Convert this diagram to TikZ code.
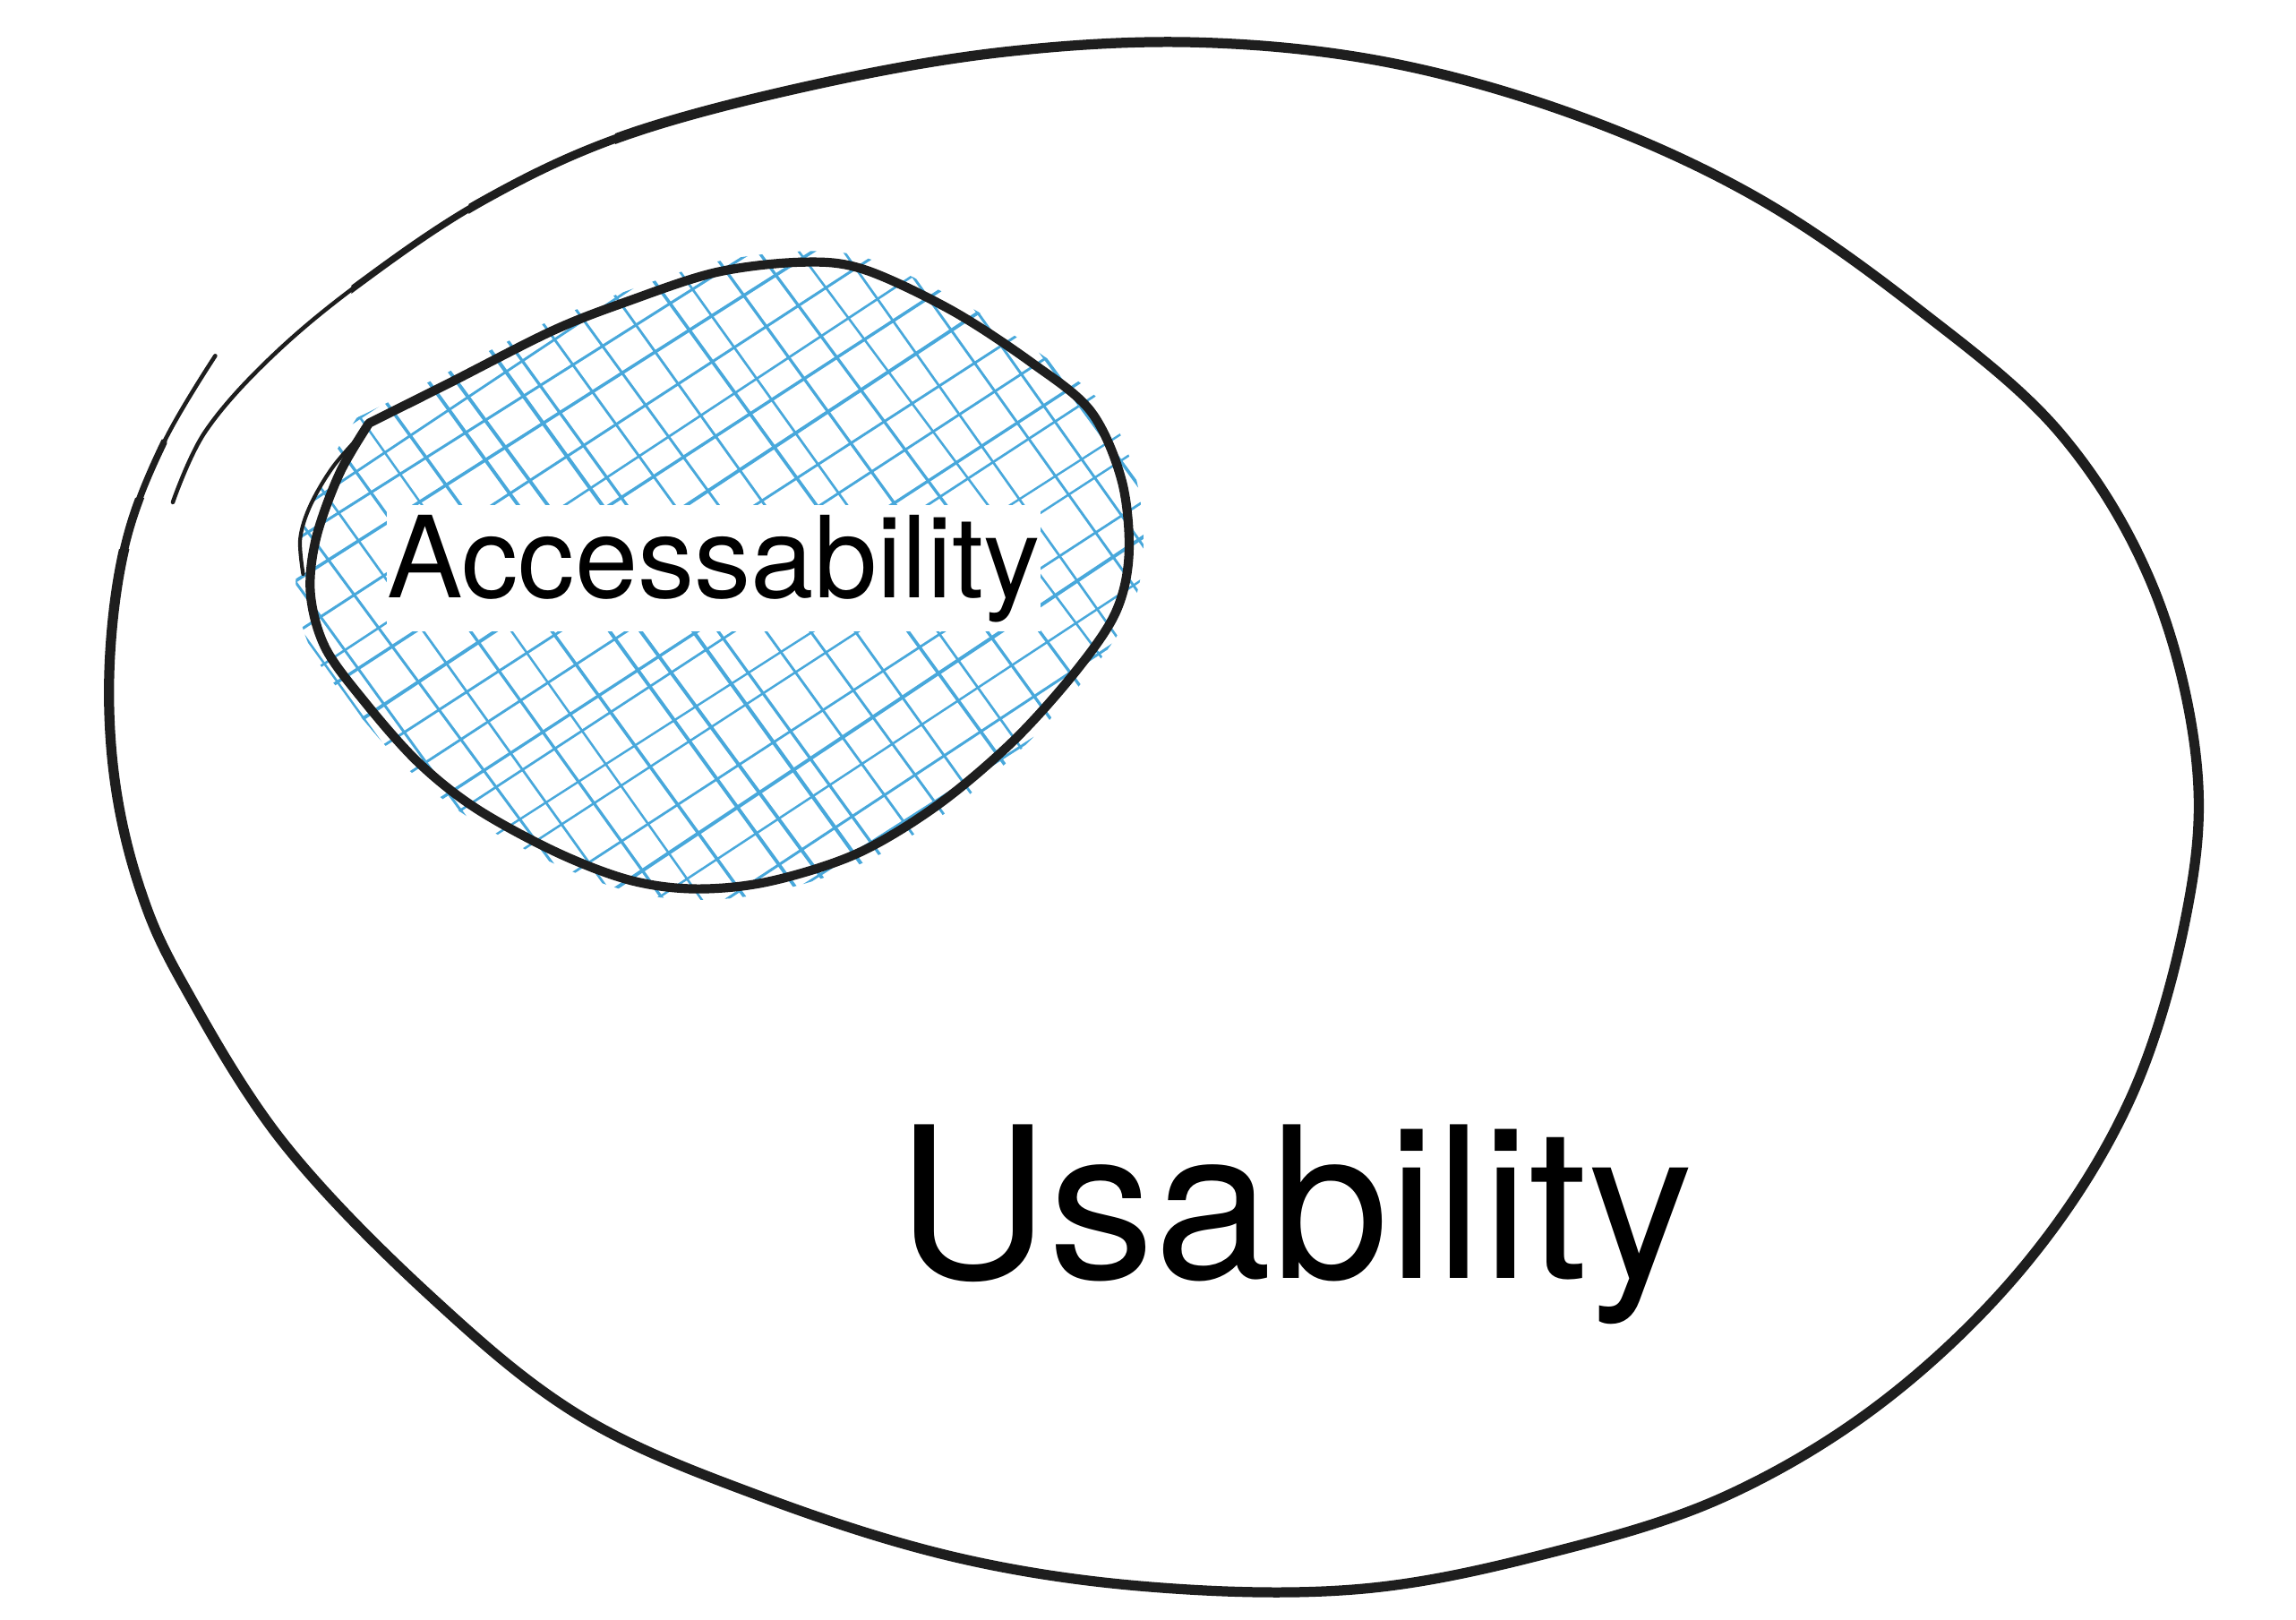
\documentclass[tikz,border=0pt]{standalone}
\usepackage{fontspec}
\newfontfamily\heros{TeX Gyre Heros}
\usepackage{tikz}
\usetikzlibrary{calc}
\usepackage{xcolor}
\definecolor{ink}{HTML}{1E1E1E}
\definecolor{hatchblue}{HTML}{48A8DB}

\begin{document}
\begin{tikzpicture}[
x=0.016352cm,y=-0.016352cm,
outline/.style={draw=ink,line cap=round,line join=round},
inline/.style={draw=ink,line width=2.9pt,line cap=round,line join=round},
sketch/.style={draw=ink,line width=1.2pt,line cap=round},
hatch/.style={draw=hatchblue,line cap=round},
lbl/.style={inner xsep=0pt,inner ysep=3pt,anchor=base west,text=black}
]
\def\innerblob{plot[smooth,tension=0.55] coordinates {(252,289) (306,262) (377,226) (428,206) (489,186) (548,179) (590,184) (650,212) (705,248) (745,281) (766,328) (771,378) (762,418) (735,458) (692,506) (640,550) (585,583) (525,602) (475,607) (430,601) (380,582) (325,552) (285,520) (248,478) (222,442) (212,405) (216,367) (232,323) (252,289)}}
\def\outerblob{plot[smooth,tension=0.6] coordinates {(147,243) (112,302) (86,370) (75,450) (78,530) (95,605) (125,672) (194,781) (296,887) (398,968) (520,1022) (655,1064) (790,1084) (930,1085) (1060,1060) (1180,1021) (1290,954) (1386,860) (1455,750) (1493,625) (1500,520) (1470,400) (1407,296) (1310,211) (1200,135) (1080,80) (950,43) (820,29) (690,35) (560,57) (428,92) (330,137) (245,194) (184,245) (140,295) (118,343)}}
\path[fill=white] (0,0) rectangle (1568,1106);

% hatching of the inner blob
\pgfmathsetseed{11}
\begin{scope}
\clip[scale around={1.035:(492,392)}] \innerblob;
\foreach \d in {-390,-366,...,390}{
  \pgfmathsetmacro\ja{8*rand}
  \pgfmathsetmacro\jb{8*rand}
  \pgfmathsetmacro\wa{0.7+0.5*rnd}
  \pgfmathsetmacro\wb{0.7+0.5*rnd}
  \draw[hatch,line width=\wa pt,shift={(492,392)},rotate=33] (-450,\d+\ja) -- (450,\d+\jb);
  \draw[hatch,line width=\wb pt,shift={(492,392)},rotate=-54] (-450,\d+\jb) -- (450,\d+\ja);
}
\end{scope}

\draw[inline] \innerblob;
\draw[sketch] plot[smooth,tension=0.55] coordinates {(252,291) (228,318) (212,345) (205,368) (207,392)};

% outer blob, thinner towards its two ends
\draw[outline,line width=1.3pt] \outerblob;
\begin{scope}
\clip (240,0) -- (1568,0) -- (1568,1106) -- (0,1106) -- (0,300) -- (114,300) -- (114,365) -- (240,365) -- cycle;
\draw[outline,line width=2.1pt] \outerblob;
\end{scope}
\begin{scope}
\clip (320,0) -- (1568,0) -- (1568,1106) -- (0,1106) -- (0,340) -- (105,340) -- (105,370) -- (320,370) -- cycle;
\draw[outline,line width=2.7pt] \outerblob;
\end{scope}
\begin{scope}
\clip (420,0) -- (1568,0) -- (1568,1106) -- (0,1106) -- (0,375) -- (420,375) -- cycle;
\draw[outline,line width=3.2pt] \outerblob;
\end{scope}

\node[lbl,fill=white,font=\heros\fontsize{36}{40}\selectfont] (acc) at (264,408) {Accessability};
\node[lbl,font=\heros\fontsize{67}{80}\selectfont] (usa) at (612,873) {Usability};
\end{tikzpicture}
\end{document}
